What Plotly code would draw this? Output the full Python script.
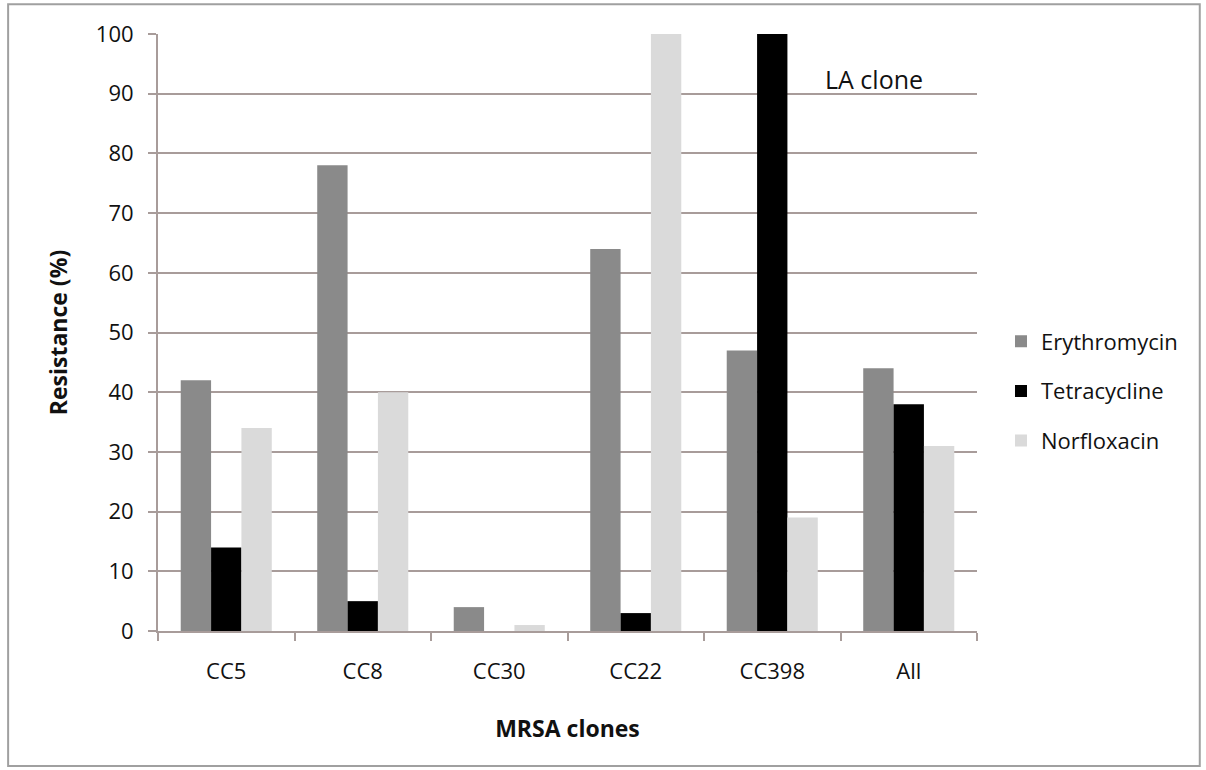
import plotly.graph_objects as go

categories = ["CC5", "CC8", "CC30", "CC22", "CC398", "All"]
erythromycin = [42, 78, 4, 64, 47, 44]
tetracycline = [14, 5, 0, 3, 100, 38]
norfloxacin = [34, 40, 1, 100, 19, 31]
y_ticks = list(range(0, 101, 10))

FONT = "Open Sans"
GRID = "#a89c9a"

fig = go.Figure()
fig.add_trace(go.Bar(name="Erythromycin", x=categories, y=erythromycin, marker_color="#8a8a8a",
                     marker_line_width=0, legendgroup="e"))
fig.add_trace(go.Bar(name="Tetracycline", x=categories, y=tetracycline, marker_color="#000000",
                     marker_line_width=0, legendgroup="t"))
fig.add_trace(go.Bar(name="Norfloxacin", x=categories, y=norfloxacin, marker_color="#dadada",
                     marker_line_width=0, legendgroup="n"))

fig.update_layout(
    width=1206, height=770,
    margin=dict(l=158, r=229, t=34, b=139),
    paper_bgcolor="white", plot_bgcolor="white",
    barmode="group", bargap=0.333, bargroupgap=0,
    font=dict(family=FONT, size=22, color="#111111"),
    legend=dict(x=1.0293, y=0.402, yanchor="middle", xanchor="left",
                font=dict(size=22, family=FONT), itemwidth=30, tracegroupgap=18,
                bgcolor="rgba(0,0,0,0)"),
    xaxis=dict(
        showline=True, linecolor=GRID, linewidth=2,
        ticks="outside", tickson="boundaries", ticklen=8, tickcolor=GRID, tickwidth=2,
        ticklabelstandoff=20,
        showgrid=False,
        title=dict(text="<b>MRSA clones</b>", font=dict(size=23, family=FONT), standoff=36),
        tickfont=dict(size=22, family=FONT),
    ),
    yaxis=dict(
        range=[0, 100], tickvals=y_ticks,
        showline=True, linecolor=GRID, linewidth=2,
        ticks="outside", ticklen=8, tickcolor=GRID, tickwidth=2,
        ticklabelstandoff=10,
        showgrid=True, gridcolor=GRID, gridwidth=2,
        zeroline=False,
        title=dict(text="<b>Resistance (%)</b>", font=dict(size=23, family=FONT), standoff=22),
        tickfont=dict(size=22, family=FONT),
    ),
    shapes=[dict(type="rect", xref="paper", yref="paper",
                 x0=-0.183, x1=1.272, y0=-0.226, y1=1.050,
                 line=dict(color="#a0a0a0", width=2), fillcolor="rgba(0,0,0,0)", layer="below")],
    annotations=[dict(text="LA clone", xref="paper", yref="y", x=0.874, y=92.5,
                      xanchor="center", yanchor="middle", showarrow=False,
                      font=dict(size=25, family=FONT, color="#111111"))],
)

fig.write_html("out.html", config={"displayModeBar": False},
               post_script="document.body.style.margin='0px';")
